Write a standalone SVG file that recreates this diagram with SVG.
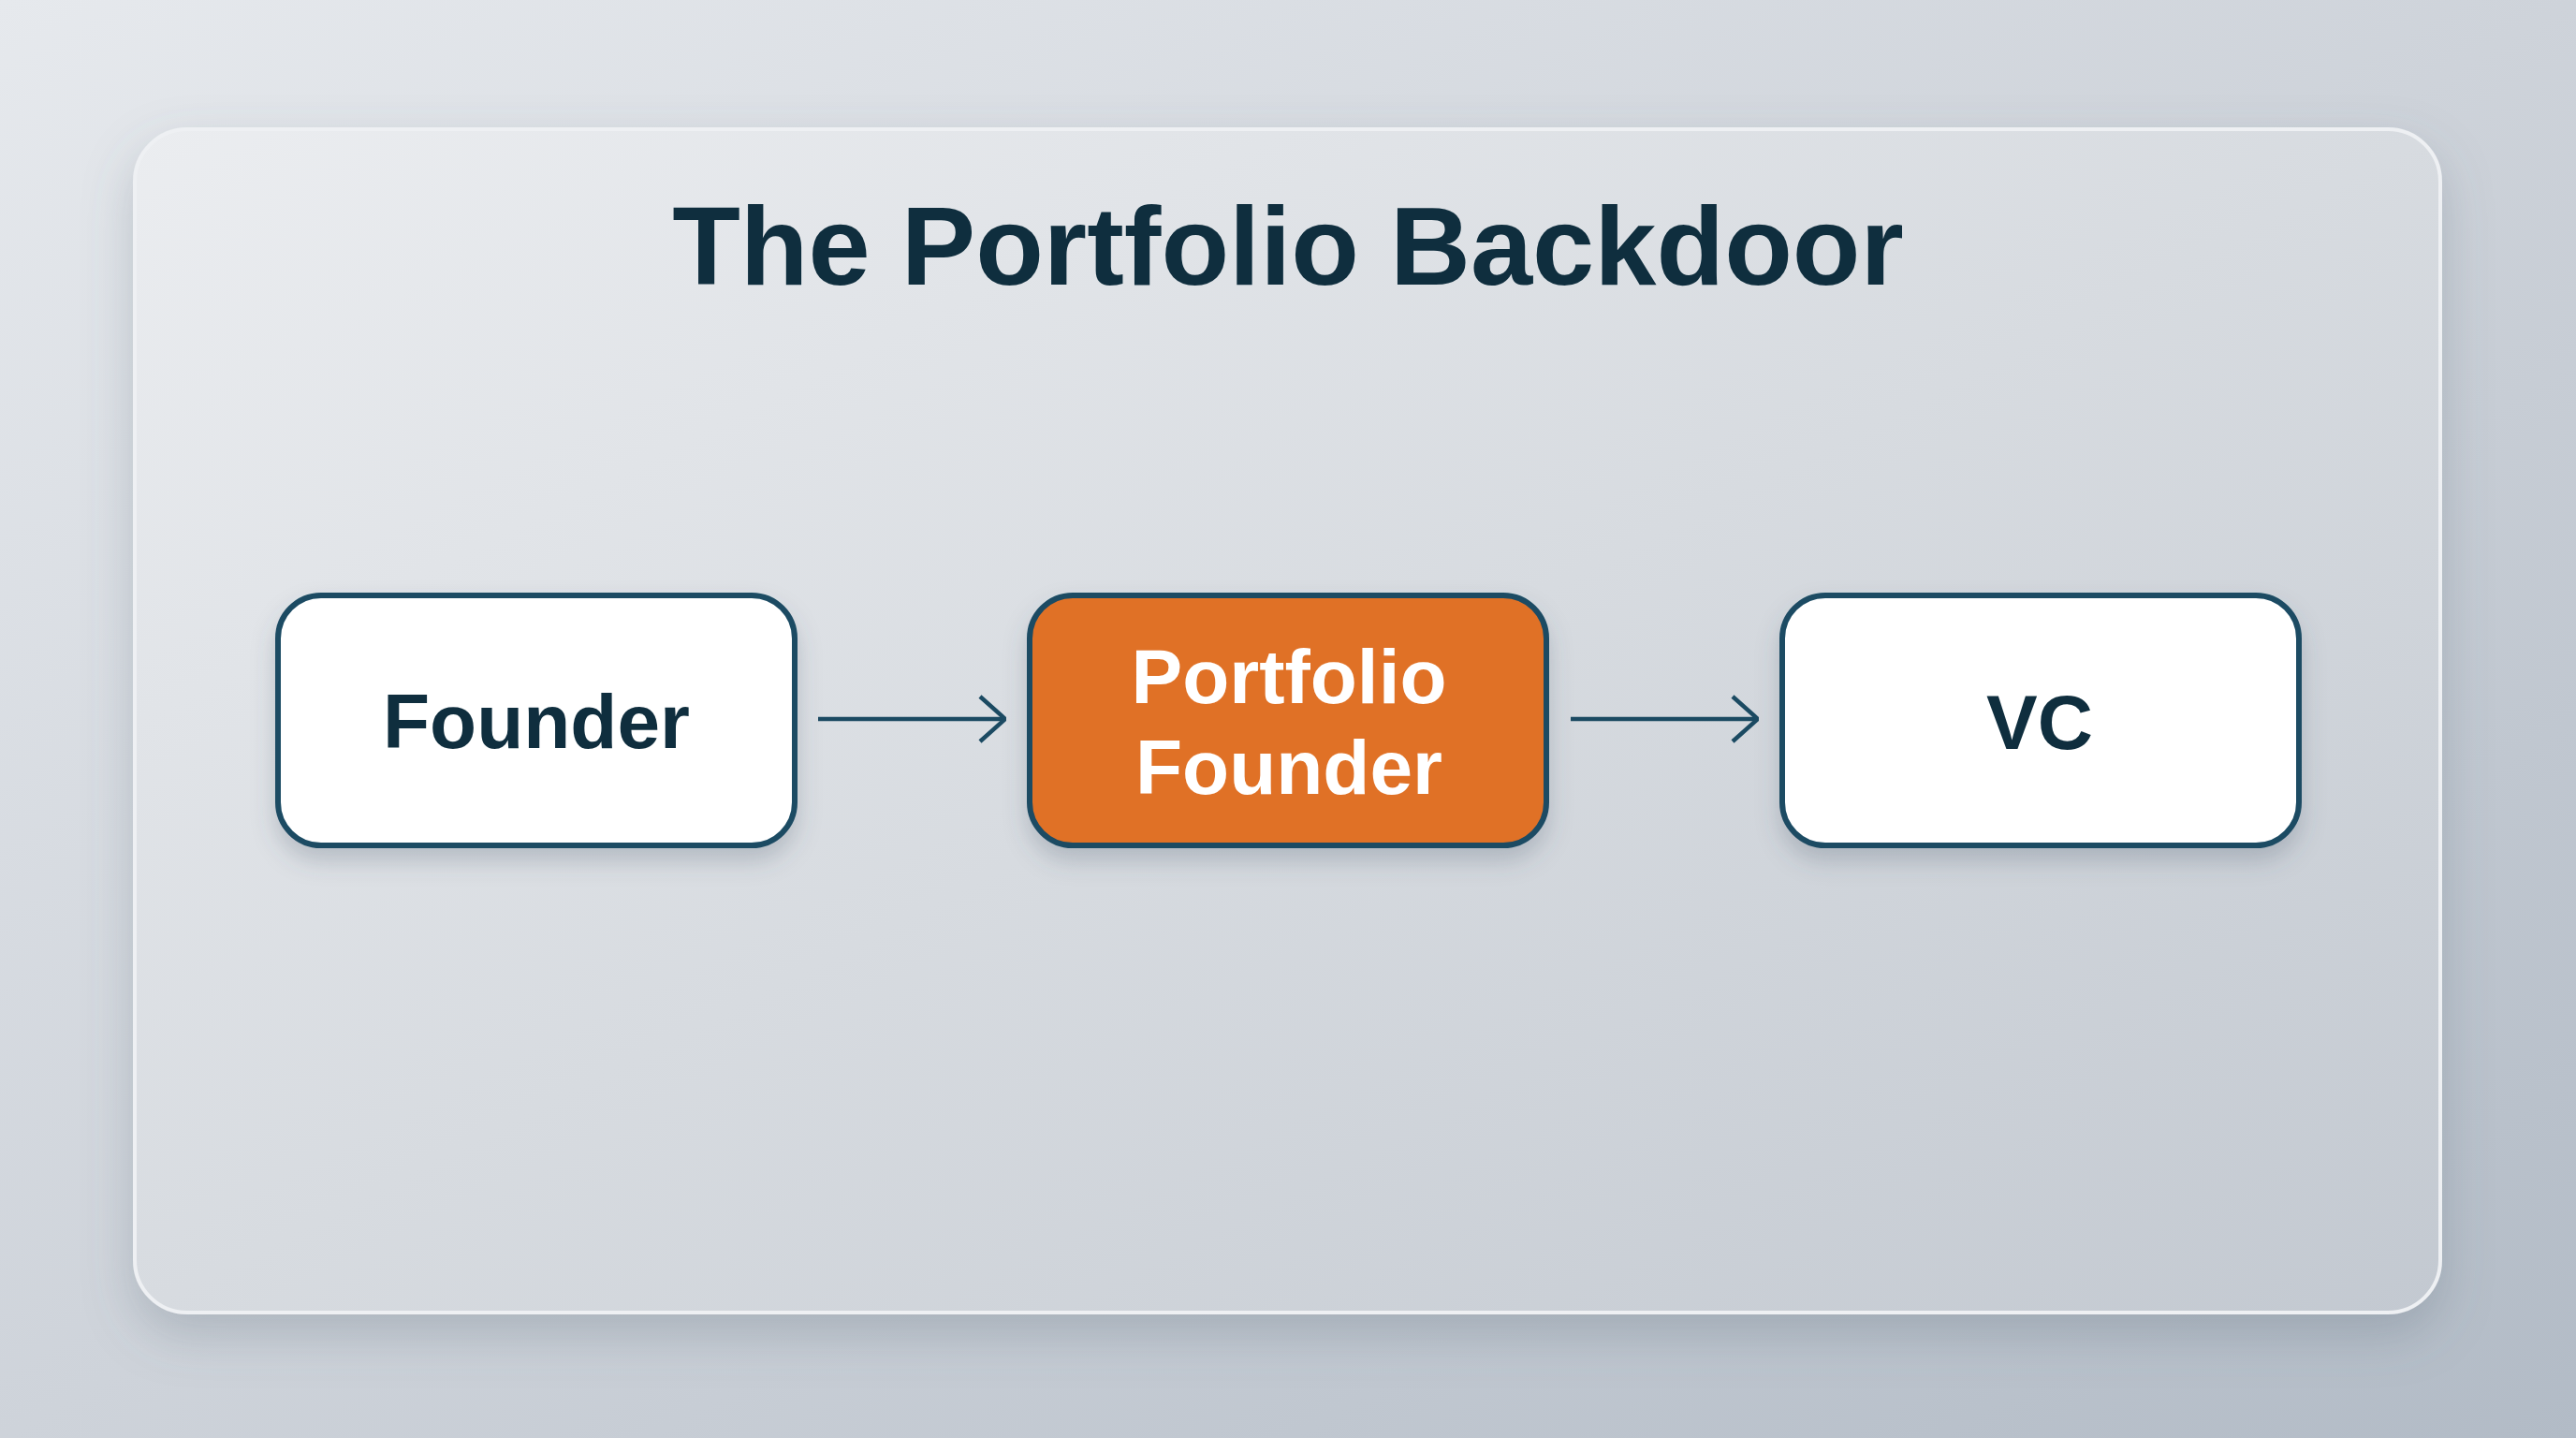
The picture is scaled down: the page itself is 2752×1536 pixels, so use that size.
<svg xmlns="http://www.w3.org/2000/svg" width="2752" height="1536" viewBox="0 0 2752 1536">
<defs>
<linearGradient id="bg" x1="0" y1="0" x2="1" y2="1">
<stop offset="0" stop-color="#e6e9ed"/>
<stop offset="0.5" stop-color="#ced3da"/>
<stop offset="1" stop-color="#b2bbc6"/>
</linearGradient>
<linearGradient id="panel" x1="0" y1="0" x2="1" y2="1">
<stop offset="0" stop-color="#ebedf0"/>
<stop offset="0.5" stop-color="#d7dbe0"/>
<stop offset="1" stop-color="#c3c9d1"/>
</linearGradient>
<filter id="panelShadow" x="-10%" y="-10%" width="120%" height="125%">
<feDropShadow dx="0" dy="22" stdDeviation="26" flood-color="#5a6778" flood-opacity="0.28"/>
</filter>
<filter id="nodeShadow" x="-15%" y="-20%" width="130%" height="150%">
<feDropShadow dx="0" dy="14" stdDeviation="12" flood-color="#4a5666" flood-opacity="0.25"/>
</filter>
<marker id="chev" viewBox="0 0 30 52" refX="29" refY="26" markerWidth="30" markerHeight="52" markerUnits="userSpaceOnUse" orient="auto">
<path d="M2,2 L29,26 L2,50" fill="none" stroke="#1b4a62" stroke-width="4.5"/>
</marker>
<style>
.node{stroke:#1b4b64;stroke-width:6}
.white{fill:#ffffff}
.orange{fill:#e07128}
.lbl{font-family:"Liberation Sans",Arial,sans-serif;font-weight:700;font-size:82px;text-anchor:middle}
.dark{fill:#0f2e3e}
.light{fill:#ffffff}
.conn{stroke:#1b4a62;stroke-width:4.5;fill:none}
</style>
</defs>
<rect x="0" y="0" width="2752" height="1536" fill="url(#bg)"/>
<g id="panel-frame">
<rect x="144" y="138" width="2463" height="1264" rx="56" ry="56" fill="url(#panel)" stroke="#eef0f3" stroke-width="4" filter="url(#panelShadow)"/>
</g>
<g id="title">
<text x="1376" y="304" font-family="'Liberation Sans',Arial,sans-serif" font-weight="700" font-size="119" text-anchor="middle" fill="#0f2e3e">The Portfolio Backdoor</text>
</g>
<g id="connectors">
<line class="conn" x1="874" y1="768" x2="1074" y2="768" marker-end="url(#chev)"/>
<line class="conn" x1="1678" y1="768" x2="1878" y2="768" marker-end="url(#chev)"/>
</g>
<g id="node-founder">
<rect class="node white" x="297" y="636" width="552" height="267" rx="46" ry="46" filter="url(#nodeShadow)"/>
<text class="lbl dark" x="573" y="799">Founder</text>
</g>
<g id="node-portfolio-founder">
<rect class="node orange" x="1100" y="636" width="552" height="267" rx="46" ry="46" filter="url(#nodeShadow)"/>
<text class="lbl light" x="1377" y="751">Portfolio</text>
<text class="lbl light" x="1377" y="848">Founder</text>
</g>
<g id="node-vc">
<rect class="node white" x="1904" y="636" width="552" height="267" rx="46" ry="46" filter="url(#nodeShadow)"/>
<text class="lbl dark" x="2179" y="800">VC</text>
</g>
</svg>
